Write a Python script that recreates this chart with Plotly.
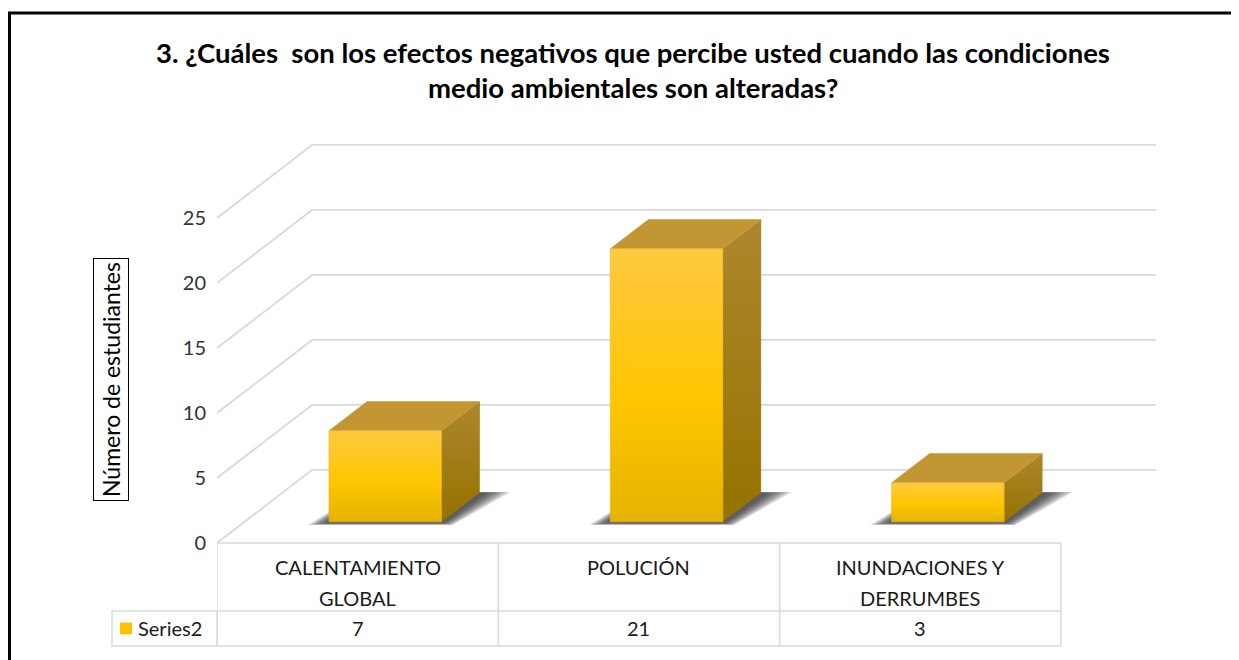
import plotly.graph_objects as go

# data
categories = [["CALENTAMIENTO", "GLOBAL"], ["POLUCIÓN"], ["INUNDACIONES Y", "DERRUMBES"]]
values = [7, 21, 3]
series_name = "Series2"
y_ticks = [0, 5, 10, 15, 20, 25]
title_lines = ["3. ¿Cuáles  son los efectos negativos que percibe usted cuando las condiciones",
               "medio ambientales son alteradas?"]
y_title = "Número de estudiantes"

# page / plot geometry (pixels on the screenshot; the page body adds an 8px margin)
OFF = 8
W, H = 1239, 660
PLOT_L, PLOT_T, PLOT_W, PLOT_H = 217, 140, 943, 508
L, T = PLOT_L - OFF, PLOT_T - OFF
R, B = W - L - PLOT_W, H - T - PLOT_H
X_RANGE = [-0.5, 2.852]
Y_RANGE = [-8.08, 31.0]

# fake 3d: depth of the floor in axis units, bars sit between F0 and F1 of it
DX, DY = 0.338, 5.62
F0, F1 = 0.29, 0.69
BAR_W = 0.40

# data table rows (axis units below zero)
ROW1, ROW2 = -5.23, -7.92

FONT = "Lato"
GRID = "#D9D9D9"


def paper_x(p):
    return (p - PLOT_L) / PLOT_W


def paper_y(p):
    return (PLOT_T + PLOT_H - p) / PLOT_H


fig = go.Figure()

# walls: diagonal on the left wall + horizontal line on the back wall per tick
gx, gy = [], []
for t in y_ticks:
    gx += [-0.5, -0.5 + DX, len(values) - 0.5 + DX, None]
    gy += [t, t + DY, t + DY, None]
fig.add_trace(go.Scatter(x=gx, y=gy, mode="lines", line=dict(color=GRID, width=1.8),
                         hoverinfo="skip", showlegend=False))

ddx, ddy = (F1 - F0) * DX, (F1 - F0) * DY
for i, v in enumerate(values):
    c = i + F0 * DX
    b = F0 * DY
    xl, xr = c - BAR_W / 2, c + BAR_W / 2

    # soft shadow on the floor: stacked translucent footprints, outer ones larger
    for k in range(7):
        g = 1 - k / 6
        sx = [xl - 0.015 - 0.06 * g, xr + 0.01 + 0.03 * g, xr + ddx + 0.03 + 0.08 * g,
              xl + ddx - 0.02 * g]
        sy = [b - 0.1 - 0.15 * g, b - 0.1 - 0.15 * g, b + ddy + 0.05 * g, b + ddy + 0.05 * g]
        fig.add_trace(go.Scatter(x=sx + sx[:1], y=sy + sy[:1], fill="toself", mode="none",
                                 fillcolor="rgba(35,35,35,0.17)",
                                 hoverinfo="skip", showlegend=False))

    # side face
    fig.add_trace(go.Scatter(
        x=[xr, xr + ddx, xr + ddx, xr, xr], y=[b, b + ddy, b + v + ddy, b + v, b],
        fill="toself", mode="lines", line=dict(color="rgba(150,115,0,0.6)", width=0.8),
        fillgradient=dict(type="vertical", colorscale=[[0, "#957200"], [1, "#AD872D"]]),
        hoverinfo="skip", showlegend=False))
    # top face
    fig.add_trace(go.Scatter(
        x=[xl, xr, xr + ddx, xl + ddx, xl], y=[b + v, b + v, b + v + ddy, b + v + ddy, b + v],
        fill="toself", mode="lines", line=dict(color="rgba(200,160,60,0.8)", width=0.8),
        fillcolor="#C29733", hoverinfo="skip", showlegend=False))
    # front face
    fig.add_trace(go.Scatter(
        x=[xl, xr, xr, xl, xl], y=[b, b, b + v, b + v, b],
        fill="toself", mode="lines", line=dict(color="rgba(230,180,40,0.8)", width=0.8),
        fillgradient=dict(type="vertical",
                          colorscale=[[0, "#E5B400"], [0.45, "#FFC600"], [1, "#FFC942"]]),
        hoverinfo="text", text="%s: %s" % (" ".join(categories[i]), v), showlegend=False))

shapes = []
# data table
tbl = dict(color=GRID, width=1.5)
n = len(values)
for yy in [0, ROW1, ROW2]:
    shapes.append(dict(type="line", xref="x", yref="y", x0=-0.5, x1=n - 0.5,
                       y0=yy, y1=yy, line=tbl))
for k in range(n + 1):
    shapes.append(dict(type="line", xref="x", yref="y", x0=k - 0.5, x1=k - 0.5,
                       y0=0, y1=ROW2, line=tbl))
# legend-key cell to the left of the table
shapes.append(dict(type="rect", xref="paper", yref="y", x0=paper_x(112), x1=0,
                   y0=ROW2, y1=ROW1, line=tbl))
shapes.append(dict(type="rect", xref="paper", yref="y", x0=paper_x(120), x1=paper_x(132),
                   y0=(ROW1 + ROW2) / 2 - 0.45, y1=(ROW1 + ROW2) / 2 + 0.45,
                   line=dict(width=0), fillcolor="#FFC000"))
# outer black frame (top and left edges)
shapes.append(dict(type="path", xref="paper", yref="paper",
                   path="M %f %f L %f %f L %f %f" % (paper_x(9.5), paper_y(670), paper_x(9.5),
                                                     paper_y(13), paper_x(1250), paper_y(13)),
                   line=dict(color="black", width=3)))

ann = []
for j, line in enumerate(title_lines):
    ann.append(dict(text="<b>%s</b>" % line, xref="paper", yref="paper",
                    x=paper_x(633), y=paper_y(52 + 36 * j), yanchor="middle", showarrow=False,
                    font=dict(family=FONT, size=27.5, color="#000000")))
for i, lines in enumerate(categories):
    for j, line in enumerate(lines):
        ann.append(dict(text=line, xref="x", yref="y", x=i, y=-1.85 - 2.4 * j,
                        yanchor="middle", showarrow=False,
                        font=dict(family=FONT, size=20, color="#1a1a1a")))
    ann.append(dict(text=str(values[i]), xref="x", yref="y", x=i, y=(ROW1 + ROW2) / 2,
                    yanchor="middle", showarrow=False,
                    font=dict(family=FONT, size=20, color="#1a1a1a")))
ann.append(dict(text=series_name, xref="paper", yref="y", x=paper_x(136), xanchor="left",
                y=(ROW1 + ROW2) / 2, yanchor="middle", showarrow=False,
                font=dict(family=FONT, size=20, color="#1a1a1a")))
ann.append(dict(text=y_title, xref="paper", yref="paper", x=paper_x(111), y=paper_y(380),
                xanchor="center", yanchor="middle", textangle=-90, showarrow=False,
                bordercolor="black", borderwidth=1, borderpad=3,
                font=dict(family=FONT, size=23, color="#000000")))

fig.update_layout(
    width=W, height=H,
    margin=dict(l=L, r=R, t=T, b=B),
    paper_bgcolor="white", plot_bgcolor="white",
    xaxis=dict(range=X_RANGE, visible=False, fixedrange=True),
    yaxis=dict(range=Y_RANGE, tickvals=y_ticks, showgrid=False, zeroline=False,
               showline=False, ticks="", ticklabelstandoff=10, fixedrange=True,
               tickfont=dict(family=FONT, size=20, color="#333333")),
    shapes=shapes, annotations=ann, showlegend=False,
)

fig.write_html("out.html")
